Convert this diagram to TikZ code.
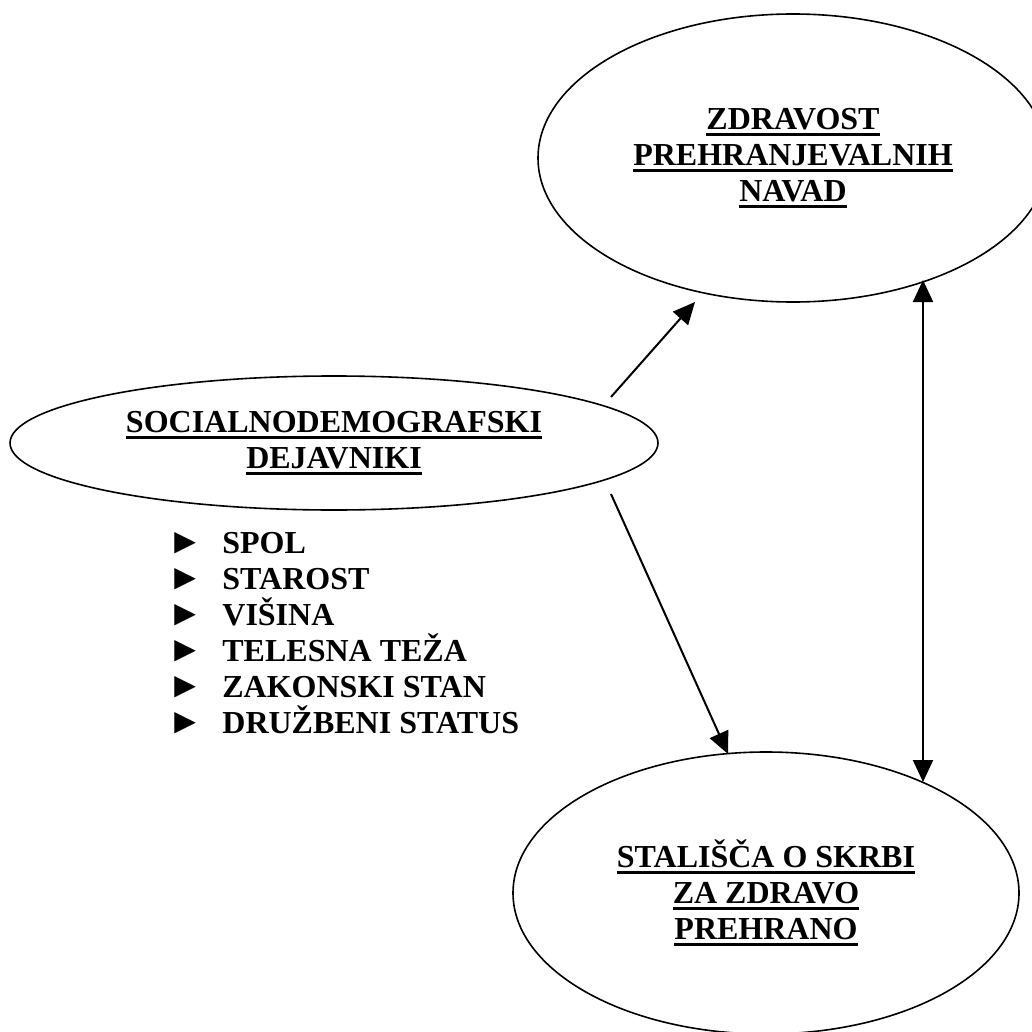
\documentclass[tikz,border=0pt]{standalone}
\usepackage{fontspec}
\setmainfont{Liberation Serif}
\usetikzlibrary{shapes.geometric}
\usetikzlibrary{arrows.meta}

\newcommand{\undl}[1]{\leavevmode\setbox0\hbox{#1}\rlap{\vrule width\wd0 height -1.8pt depth 3.1pt}\box0}

\tikzset{
  oval/.style={shape=ellipse,draw=black,line width=0.8pt,inner sep=0pt,align=center,
    font=\bfseries\fontsize{16}{18}\selectfont},
  item/.style={anchor=base west,inner sep=0pt,font=\bfseries\fontsize{16}{18}\selectfont},
  link/.style={line width=1pt,-{Triangle[length=11pt,width=10pt]}}
}

\begin{document}
\begin{tikzpicture}[x=0.5pt,y=-0.5pt]
    \useasboundingbox (0,0) rectangle (1032,1032);

    \node[oval,minimum width=255pt,minimum height=144pt] (Z) at (793,158)
        {\undl{ZDRAVOST}\\ \undl{PREHRANJEVALNIH}\\ \undl{NAVAD}};
    \node[oval,minimum width=324pt,minimum height=67pt] (S) at (334,443)
        {\undl{SOCIALNODEMOGRAFSKI}\\ \undl{DEJAVNIKI}};
    \node[oval,minimum width=253pt,minimum height=141pt] (P) at (766,893)
        {\undl{STALIŠČA O SKRBI}\\ \undl{ZA ZDRAVO}\\ \undl{PREHRANO}};

    % list of factors
    \foreach \t [count=\i] in {SPOL,STAROST,VIŠINA,TELESNA TEŽA,ZAKONSKI STAN,DRUŽBENI STATUS}{
        \node[item,font=\fontsize{18}{18}\selectfont] (b\i) at (167,517+36*\i) {►};
        \node[item] (t\i) at (222,517+36*\i) {\t};
    }

    \coordinate (s1) at (611,397);
    \coordinate (e1) at (695,302);
    \coordinate (s2) at (611,494);
    \coordinate (e2) at (728,754);
    \coordinate (u1) at (923,280);
    \coordinate (u2) at (923,782);

     \draw [link] (s1) -- (e1);
     \draw [link] (s2) -- (e2);
     \draw [line width=1pt,{Triangle[length=11pt,width=10pt]}-{Triangle[length=11pt,width=10pt]}] (u1) -- (u2);
\end{tikzpicture}
\end{document}
